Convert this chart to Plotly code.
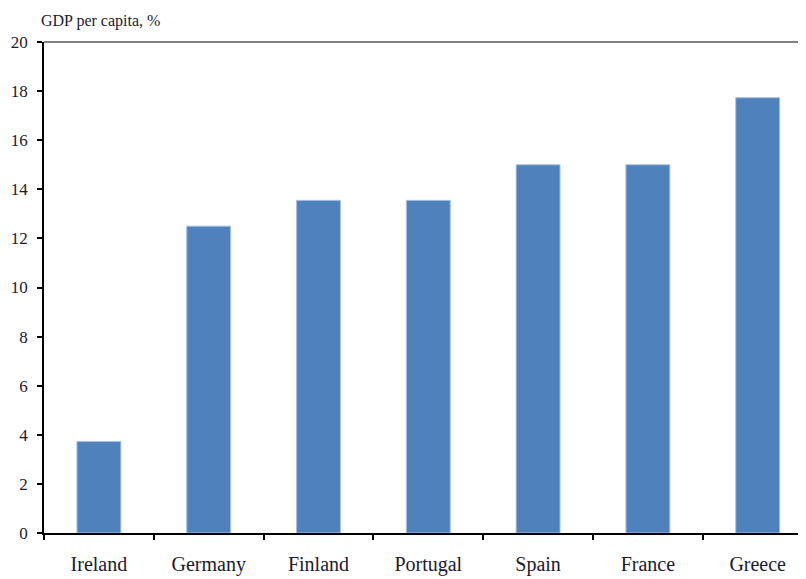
import plotly.graph_objects as go

categories = ["Ireland", "Germany", "Finland", "Portugal", "Spain", "France", "Greece"]
values = [3.73, 12.5, 13.55, 13.55, 15.0, 15.0, 17.73]
y_ticks = [0, 2, 4, 6, 8, 10, 12, 14, 16, 18, 20]
title_text = "GDP per capita, %"

fig = go.Figure()
fig.add_trace(go.Bar(
    x=categories, y=values, width=0.4,
    marker=dict(color="#4F81BD", line=dict(color="#a9c1e3", width=1)),
))

SERIF = "Liberation Serif, Times New Roman, serif"

fig.update_layout(
    width=798, height=571,
    margin=dict(l=36, r=0, t=34, b=46),
    paper_bgcolor="white", plot_bgcolor="white",
    showlegend=False,
    font=dict(family=SERIF, color="#1a1a1a"),
    xaxis=dict(
        range=[-0.5, 6.44], showgrid=False, showline=True, linecolor="black", linewidth=1.5,
        ticks="outside", tickson="boundaries", ticklen=5, tickcolor="black", tickwidth=1.5,
        tickfont=dict(size=20, family=SERIF, color="#1a1a2e"),
        ticklabelstandoff=12, automargin=False,
    ),
    yaxis=dict(
        range=[0, 20], tickvals=y_ticks, showgrid=False, zeroline=False,
        showline=True, linecolor="black", linewidth=1.5,
        ticks="outside", ticklen=5, tickcolor="black", tickwidth=1.5,
        tickfont=dict(size=17, family=SERIF, color="#1a1a2e"),
        ticklabelstandoff=6, automargin=False,
    ),
    shapes=[dict(type="line", xref="paper", yref="paper", x0=0, x1=1, y0=1, y1=1,
                 line=dict(color="#808080", width=2))],
    annotations=[dict(text=title_text, xref="paper", yref="paper", x=0, y=1,
                      xanchor="left", yanchor="bottom", yshift=10, xshift=-5, showarrow=False,
                      font=dict(size=16, family=SERIF, color="#1a1a2e"))],
)

fig.write_html("out.html")
